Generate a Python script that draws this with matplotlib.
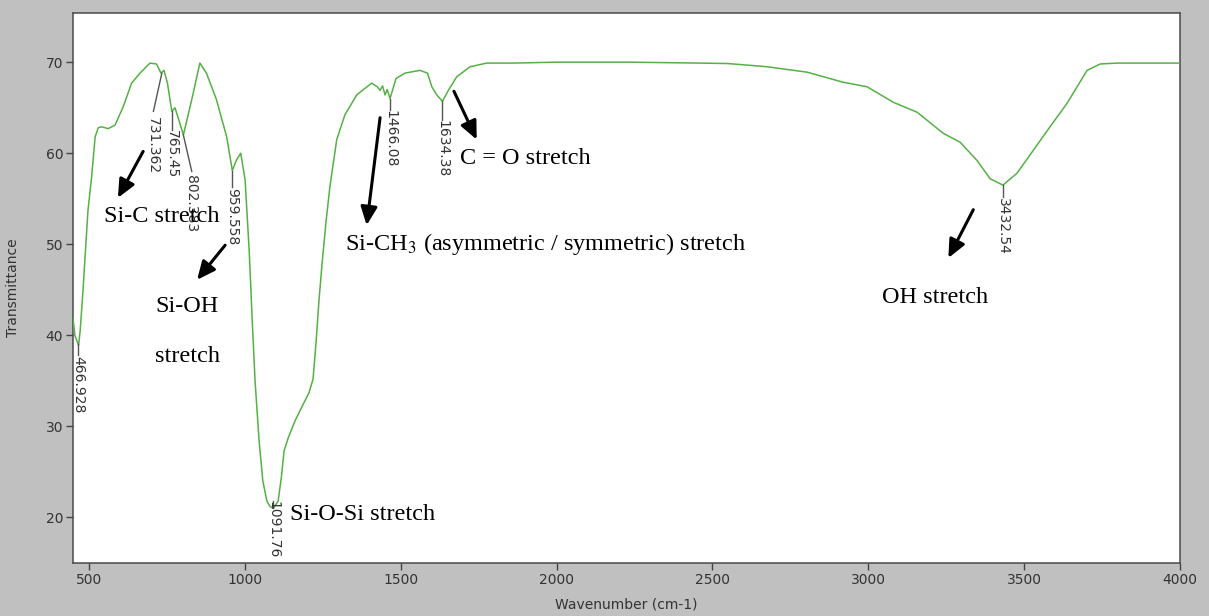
import matplotlib
matplotlib.use("Agg")
import matplotlib.pyplot as plt

# ---------------- data ----------------
wavenumber = [449, 455, 466.9, 472, 481, 491, 497, 509, 520, 530, 541, 562, 584, 610, 637, 664,
              696, 717, 731, 741, 752, 766, 776, 790, 803, 830, 856, 877, 909, 942, 960, 974,
              987, 1001, 1014, 1024, 1033, 1046, 1058, 1071, 1081, 1092, 1107, 1117, 1126, 1139,
              1161, 1184, 1206, 1219, 1229, 1238, 1248, 1261, 1273, 1295, 1321, 1359, 1407, 1425,
              1434, 1442, 1450, 1457, 1466, 1485, 1514, 1562, 1586, 1600, 1616, 1634, 1653, 1680,
              1723, 1776, 1860, 2000, 2236, 2460, 2550, 2675, 2804, 2919, 2996, 3080, 3157, 3240,
              3295, 3349, 3391, 3432, 3477, 3529, 3583, 3638, 3670, 3702, 3744, 3798, 3900, 4000]
transmittance = [41.9, 40.0, 38.9, 40.5, 44.9, 50.4, 53.7, 57.5, 61.8, 62.8, 62.9, 62.7, 63.1, 65.1,
                 67.7, 68.8, 69.9, 69.8, 68.8, 69.1, 67.7, 64.6, 65.0, 63.5, 62.0, 65.9, 69.9, 68.8,
                 65.9, 61.8, 58.1, 59.3, 60.0, 57.1, 49.4, 41.6, 35.0, 28.4, 24.0, 21.8, 21.2, 21.0,
                 21.8, 24.3, 27.3, 28.7, 30.6, 32.2, 33.7, 35.2, 39.4, 43.8, 47.9, 52.6, 56.3, 61.5,
                 64.2, 66.4, 67.7, 67.3, 66.9, 67.4, 66.4, 67.0, 66.0, 68.2, 68.8, 69.1, 68.8, 67.3,
                 66.4, 65.7, 66.9, 68.4, 69.5, 69.9, 69.9, 70.0, 70.0, 69.9, 69.85, 69.5, 68.9, 67.8,
                 67.3, 65.6, 64.5, 62.2, 61.2, 59.2, 57.2, 56.5, 57.8, 60.3, 62.9, 65.5, 67.3, 69.1,
                 69.8, 69.9, 69.9, 69.9]

peak_labels = ["466.928", "731.362", "765.45", "802.383", "959.558", "1091.76",
               "1466.08", "1634.38", "3432.54"]
x_ticks = [500, 1000, 1500, 2000, 2500, 3000, 3500, 4000]
y_ticks = [20, 30, 40, 50, 60, 70]

band_labels = ["Si-C stretch", "Si-OH", "stretch", "Si-O-Si stretch",
               "Si-CH$_3$ (asymmetric / symmetric) stretch", "C = O stretch", "OH stretch"]

# ---------------- layout ----------------
# peak label leaders: (start x, start y, end x, end y, text x, text top y)
peak_layout = [
    (466, 39.1, 466, 37.8, 466, 37.7),
    (734, 68.8, 707, 64.6, 706, 64.0),
    (766, 64.6, 766, 62.6, 766, 62.5),
    (803, 62.0, 830, 58.0, 826, 57.6),
    (960, 58.1, 960, 56.3, 960, 56.2),
    (1092, 21.0, 1092, 21.8, 1092, 21.8),
    (1466, 66.0, 1466, 64.8, 1466, 64.7),
    (1634, 65.7, 1634, 63.7, 1634, 63.6),
    (3432, 56.5, 3432, 55.2, 3432, 55.1),
]
# band text (x, baseline y)
band_pos = [(548, 52.5), (712, 42.6), (712, 37.1), (1145, 19.75),
            (1322, 49.4), (1691, 58.85), (3044, 43.6)]
# arrows: (tail x, tail y, head x, head y)
arrows = [(674, 60.2, 593, 55.1), (937, 49.9, 847, 46.1), (1434, 63.9, 1391, 52.1),
          (1671, 66.8, 1744, 61.5), (3337, 53.8, 3257, 48.5)]

plt.rcParams['mathtext.fontset'] = 'stix'

W, H = 1209, 616
fig = plt.figure(figsize=(W / 100, H / 100), dpi=100, facecolor='#c0c0c0')
ax = fig.add_axes([73 / W, 1 - 563 / H, (1180 - 73) / W, (563 - 13) / H])
ax.set_facecolor('white')

ax.plot(wavenumber, transmittance, color='#55b046', lw=1.1, zorder=3)

ax.set_xlim(449, 4000)
ax.set_ylim(15.0, 75.4)
ax.set_xticks(x_ticks)
ax.set_yticks(y_ticks)
ax.tick_params(axis='both', direction='out', length=5, width=1, color='#444444',
               labelsize=10, labelcolor='#333333', pad=2)
for s in ax.spines.values():
    s.set_color('#4a4a4a')
    s.set_linewidth(1.1)

fig.text(13 / W, 1 - 288 / H, "Transmittance", rotation=90, ha='center', va='center',
         fontsize=10, color='#333333', family='DejaVu Sans')
fig.text(626 / W, 1 - 605 / H, "Wavenumber (cm-1)", ha='center', va='center',
         fontsize=10, color='#333333', family='DejaVu Sans')

# peak labels
for lab, (x0, y0, x1, y1, tx, ty) in zip(peak_labels, peak_layout):
    ax.plot([x0, x1], [y0, y1], color='#555555', lw=1.0, zorder=4)
    ax.text(tx, ty, lab, rotation=270, ha='center', va='top', fontsize=10,
            color='#333333', family='DejaVu Sans', zorder=4)

# band annotations
for lab, (bx, by) in zip(band_labels, band_pos):
    ax.text(bx, by, lab, ha='left', va='baseline', fontsize=17.5, color='black',
            family='Liberation Serif', zorder=6)

for (tx, ty, hx, hy) in arrows:
    ax.annotate('', xy=(hx, hy), xytext=(tx, ty),
                arrowprops=dict(arrowstyle='-|>,head_length=0.55,head_width=0.25',
                                mutation_scale=20, color='black', lw=2.2,
                                shrinkA=0, shrinkB=0), zorder=6)

fig.savefig('out.png', dpi=100, facecolor=fig.get_facecolor())
